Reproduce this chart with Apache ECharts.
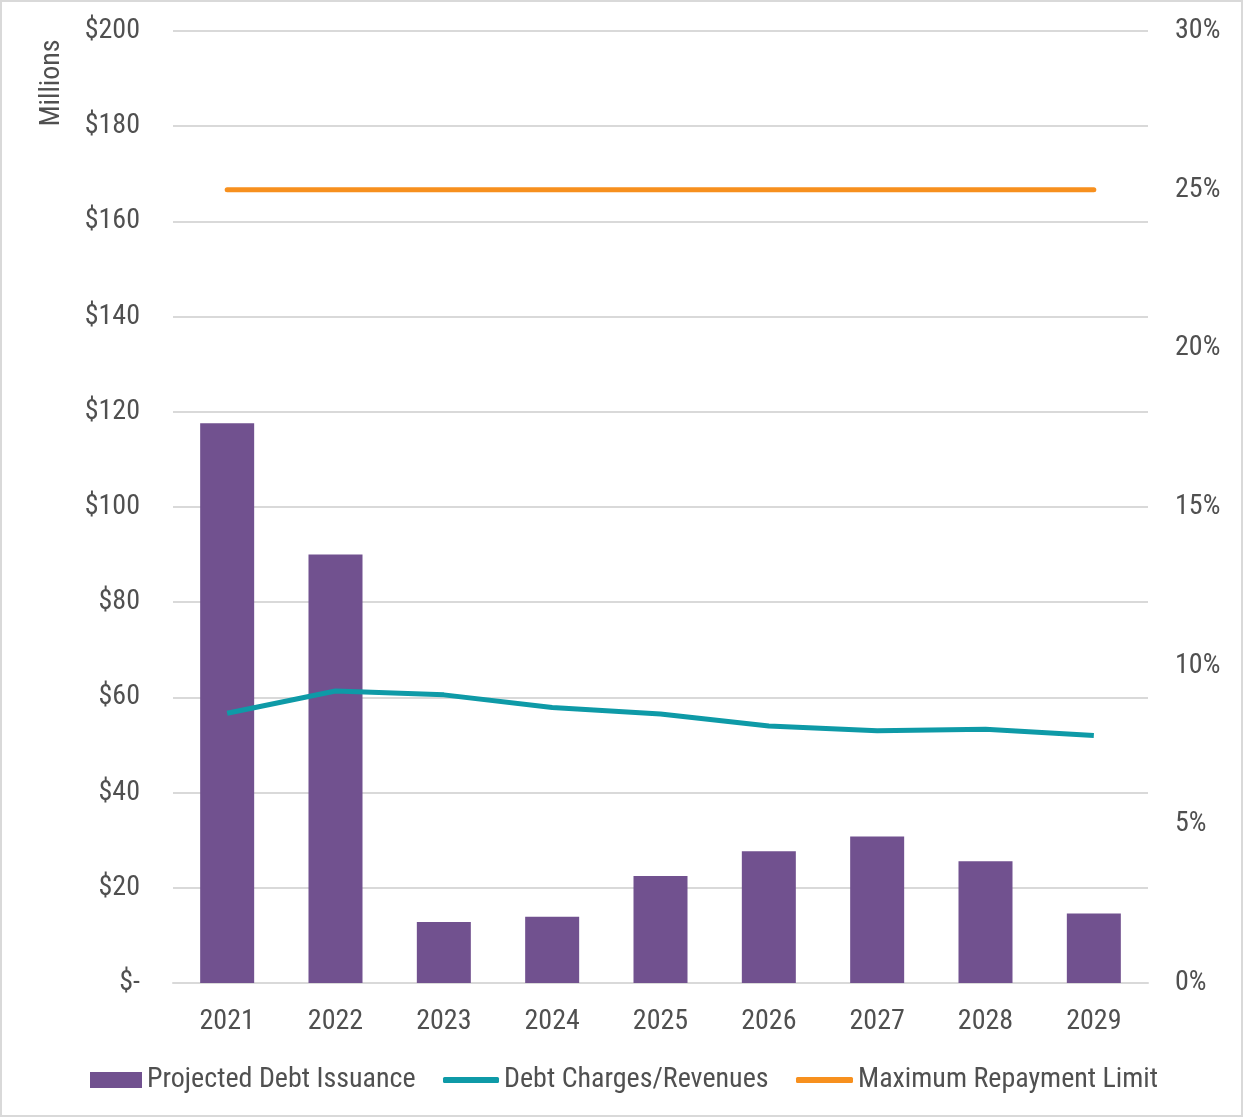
<!DOCTYPE html>
<html>
<head>
<meta charset="utf-8">
<script src="https://cdn.jsdelivr.net/npm/echarts@6/dist/echarts.min.js"></script>
<style>
html,body{margin:0;padding:0;background:#fff;}
#chart{width:1244px;height:1118px;}
</style>
</head>
<body>
<div id="chart"></div>
<script>
var categories = ['2021','2022','2023','2024','2025','2026','2027','2028','2029'];
var debtIssuance = [117.6, 90.0, 12.8, 13.9, 22.5, 27.7, 30.8, 25.6, 14.6];
var debtChargesPct = [8.5, 9.2, 9.08, 8.68, 8.48, 8.1, 7.95, 8.0, 7.8];
var maxRepaymentPct = [25, 25, 25, 25, 25, 25, 25, 25, 25];
var leftTicks = {min: 0, max: 200, interval: 20};
var rightTicks = {min: 0, max: 30, interval: 5};

var FONT = '"Liberation Sans Narrow", "Arial Narrow", "Roboto Condensed", sans-serif';
var GRAY = '#505050';
var FS = 28;
var chart = echarts.init(document.getElementById('chart'), null, {renderer: 'canvas'});
chart.setOption({
  animation: false,
  textStyle: {fontFamily: FONT, color: GRAY},
  grid: {left: 173, right: 96, top: 31, bottom: 135, containLabel: false},
  graphic: [
    {type: 'rect', shape: {x: 1, y: 1, width: 1241, height: 1115}, style: {fill: 'none', stroke: '#d9d9d9', lineWidth: 2}, silent: true},
    {type: 'text', x: 52, y: 83, rotation: Math.PI / 2, style: {text: 'Millions', font: FS + 'px ' + FONT, fill: GRAY, align: 'center', verticalAlign: 'middle'}}
  ],
  legend: [
    {data: ['Projected Debt Issuance'], left: 90, top: 1066, padding: 0, itemWidth: 52, itemHeight: 16, icon: 'rect',
     textStyle: {fontFamily: FONT, fontSize: FS, color: GRAY}},
    {data: ['Debt Charges/Revenues'], left: 443, top: 1066, padding: 0, itemWidth: 56, itemHeight: 6, icon: 'roundRect',
     textStyle: {fontFamily: FONT, fontSize: FS, color: GRAY}},
    {data: ['Maximum Repayment Limit'], left: 796, top: 1066, padding: 0, itemWidth: 57, itemHeight: 6, icon: 'roundRect',
     textStyle: {fontFamily: FONT, fontSize: FS, color: GRAY}}
  ],
  xAxis: {
    type: 'category', data: categories,
    axisLine: {lineStyle: {color: '#d9d9d9', width: 2}},
    axisTick: {show: false},
    axisLabel: {margin: 25, fontSize: FS, color: GRAY, fontFamily: FONT}
  },
  yAxis: [
    {type: 'value', min: leftTicks.min, max: leftTicks.max, interval: leftTicks.interval,
     axisLine: {show: false}, axisTick: {show: false},
     splitLine: {lineStyle: {color: '#d9d9d9', width: 2}},
     axisLabel: {margin: 33, fontSize: FS, color: GRAY, fontFamily: FONT,
       formatter: function (v) { return v === 0 ? '$-' : '$' + v; }}},
    {type: 'value', min: rightTicks.min, max: rightTicks.max, interval: rightTicks.interval,
     axisLine: {show: false}, axisTick: {show: false}, splitLine: {show: false},
     axisLabel: {margin: 27, fontSize: FS, color: GRAY, fontFamily: FONT,
       formatter: function (v) { return v + '%'; }}}
  ],
  series: [
    {name: 'Projected Debt Issuance', type: 'bar', data: debtIssuance, barWidth: 54,
     itemStyle: {color: '#71518f'}, z: 2},
    {name: 'Debt Charges/Revenues', type: 'line', yAxisIndex: 1, data: debtChargesPct,
     showSymbol: false, symbol: 'none', lineStyle: {color: '#0e9aa7', width: 5}, itemStyle: {color: '#0e9aa7'}, z: 3},
    {name: 'Maximum Repayment Limit', type: 'line', yAxisIndex: 1, data: maxRepaymentPct,
     showSymbol: false, symbol: 'none', lineStyle: {color: '#f7901e', width: 5, cap: 'round'}, itemStyle: {color: '#f7901e'}, z: 3}
  ]
});
</script>
</body>
</html>
